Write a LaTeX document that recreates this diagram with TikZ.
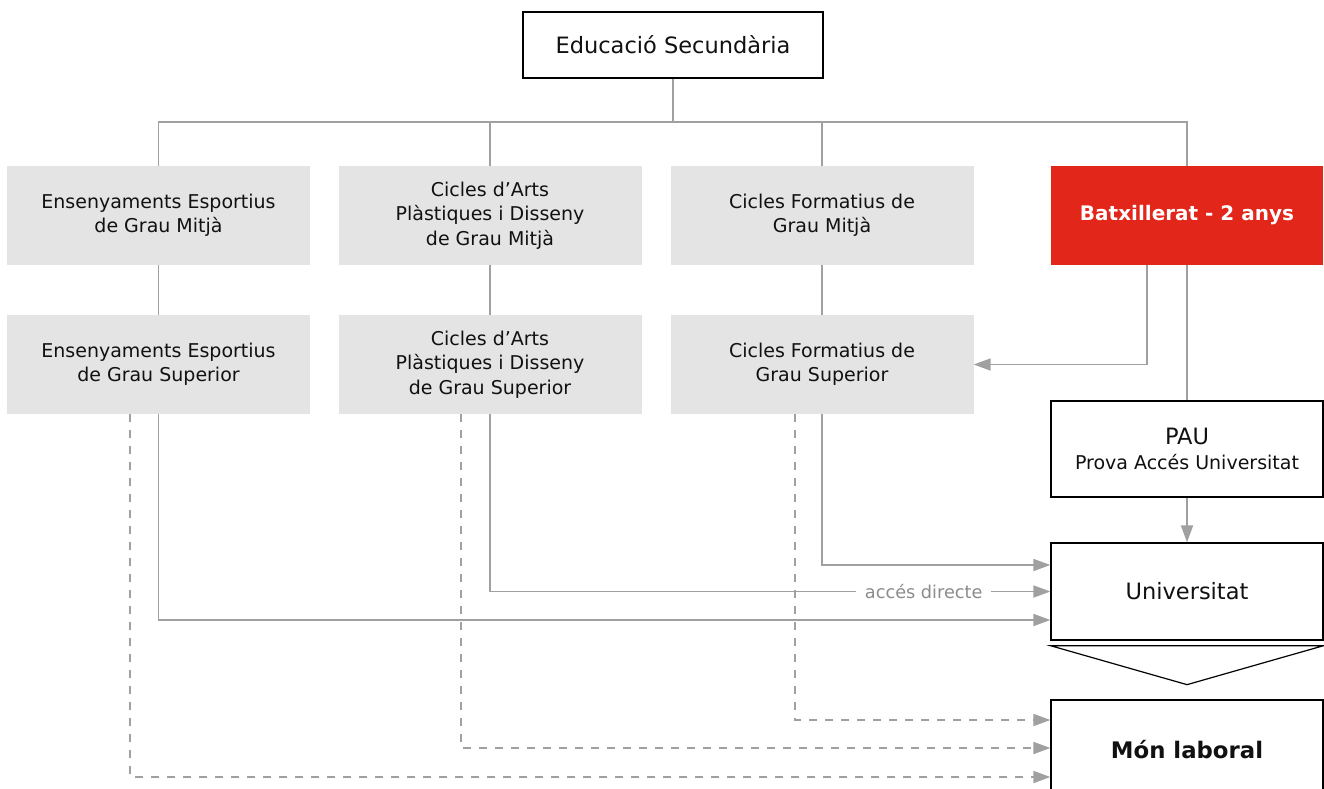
\documentclass[tikz,border=0pt]{standalone}
\usepackage{fontspec}
\setmainfont{DejaVu Sans}
\usetikzlibrary{arrows.meta,calc}
\definecolor{lin}{HTML}{A0A0A0}
\definecolor{boxg}{HTML}{E4E4E4}
\definecolor{redb}{HTML}{E3261A}
\definecolor{txt}{HTML}{111111}
\definecolor{lbl}{HTML}{8C8C8C}
\begin{document}
\begin{tikzpicture}[x=1pt,y=-1pt,
  graybox/.style={fill=boxg, minimum width=303pt, minimum height=99pt, inner sep=0pt, align=center, text=txt, font=\fontsize{19}{24.5}\selectfont},
  whitebox/.style={draw=black, line width=1.3pt, fill=white, minimum width=272pt, inner sep=0pt, align=center, text=txt},
  conn/.style={draw=lin, line width=1.8pt},
  arr/.style={conn, -{Triangle[length=17pt,width=12pt]}},
  darr/.style={arr, dash pattern=on 8pt off 8pt},
  lab/.style={fill=white, text=lbl, inner xsep=9pt, inner ysep=2pt, font=\fontsize{17.7}{20}\selectfont},
]
\useasboundingbox (0,0) rectangle (1324,789);
\clip (0,0) rectangle (1324,789);

\node[whitebox, minimum width=300pt, minimum height=66pt, font=\fontsize{22.5}{27}\selectfont] (sec) at (673,45) {Educació Secundària};

\node[graybox] (ee1) at (158.5,215.5) {Ensenyaments Esportius\\de Grau Mitjà};
\node[graybox] (ap1) at (490,215.5) {Cicles d’Arts\\Plàstiques i Disseny\\de Grau Mitjà};
\node[graybox] (cf1) at (822,215.5) {Cicles Formatius de\\Grau Mitjà};
\node[fill=redb, minimum width=272pt, minimum height=99pt, inner sep=0pt, text=white, font=\bfseries\fontsize{20}{24}\selectfont] (batx) at (1187,215.5) {Batxillerat - 2 anys};

\node[graybox] (ee2) at (158.5,364.5) {Ensenyaments Esportius\\de Grau Superior};
\node[graybox] (ap2) at (490,364.5) {Cicles d’Arts\\Plàstiques i Disseny\\de Grau Superior};
\node[graybox] (cf2) at (822,364.5) {Cicles Formatius de\\Grau Superior};

\node[whitebox, minimum height=96pt, font=\fontsize{19}{25}\selectfont] (pau) at (1187,449) {{\fontsize{22.5}{25}\selectfont PAU}\\Prova Accés Universitat};
\node[whitebox, minimum height=97pt, font=\fontsize{22.5}{27}\selectfont] (univ) at (1187,591.5) {Universitat};
\node[whitebox, minimum height=100pt, font=\bfseries\fontsize{22.8}{27}\selectfont] (mon) at (1187,750) {Món laboral};

\draw[line width=1.2pt, line join=miter] ([yshift=-5pt]univ.south west) -- ([yshift=-5pt]univ.south east) -- ($(univ.south)+(0,44)$) -- cycle;

\coordinate (bus) at (673,122);
\draw[conn] (sec.south) -- (bus);
\draw[conn] (ee1.north) |- (bus) -| (batx.north);
\draw[conn] (ap1.north) -- (ap1.north |- bus);
\draw[conn] (cf1.north) -- (cf1.north |- bus);

\draw[conn] (ee1) -- (ee2);
\draw[conn] (ap1) -- (ap2);
\draw[conn] (cf1) -- (cf2);

\draw[arr] ([xshift=-40pt]batx.south) |- (cf2.east);
\draw[conn] (batx) -- (pau);
\draw[arr] (pau) -- (univ);

\draw[darr] ([xshift=-27pt]cf2.south) |- ([yshift=30pt]mon.west);
\draw[darr] ([xshift=-29pt]ap2.south) |- ([yshift=2pt]mon.west);
\draw[darr] ([xshift=-28.5pt]ee2.south) |- ([yshift=-27pt]mon.west);

\draw[arr] (cf2.south) |- ([yshift=26.5pt]univ.west);
\draw[arr] (ap2.south) |- node[lab, pos=0.887] {accés directe} (univ.west);
\draw[arr] (ee2.south) |- ([yshift=-28.5pt]univ.west);
\end{tikzpicture}
\end{document}
